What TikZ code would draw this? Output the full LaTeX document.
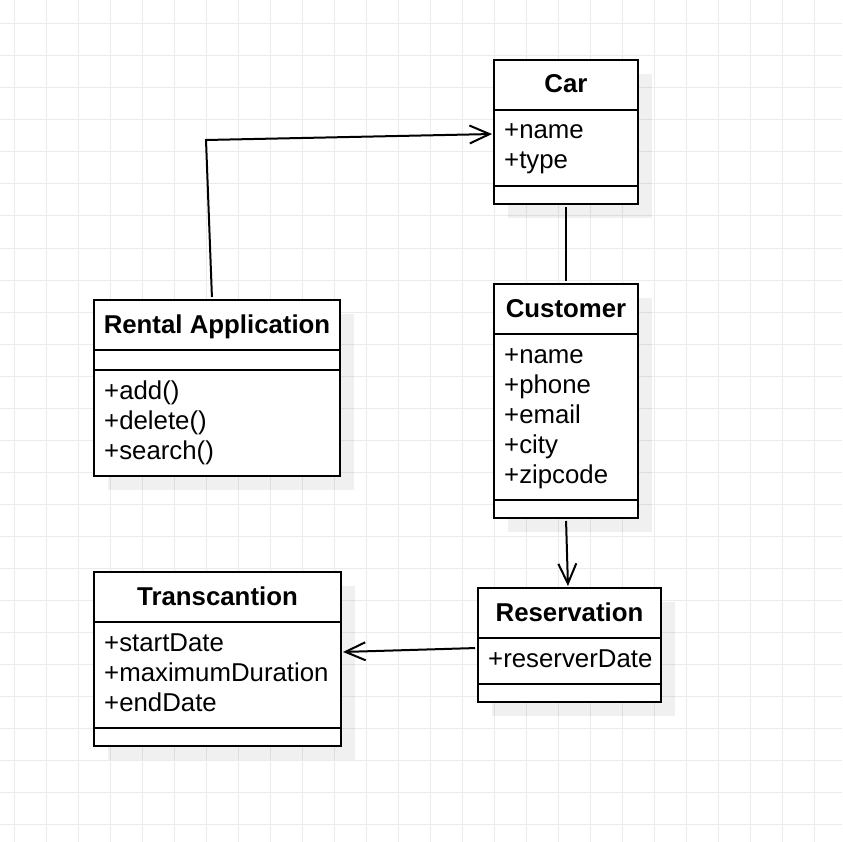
\documentclass[tikz,border=0pt]{standalone}
\usepackage{fontspec}
\setmainfont{Liberation Sans}
\usetikzlibrary{arrows.meta,shadows}

\tikzset{
  umlbox/.style={draw, line width=2pt, fill=white, inner sep=0pt,
    drop shadow={shadow xshift=14pt, shadow yshift=-14pt, fill=black, opacity=0.06}},
  title/.style={anchor=base, inner sep=0pt, font=\fontsize{25.8}{30}\selectfont\bfseries},
  attr/.style={anchor=base west, inner sep=0pt, font=\fontsize{25.8}{30}\selectfont},
  sepline/.style={line width=2pt},
  link/.style={line width=2pt},
  openarrow/.style={link, -{Straight Barb[length=20pt,width=18pt]}},
  gridline/.style={black!8, line width=1pt}
}

\begin{document}
\begin{tikzpicture}[x=1pt,y=-1pt]
  \useasboundingbox (0,0) rectangle (842,842);

  % background grid
  \foreach \gx in {0,...,25}
    \draw[gridline] (14.5+32*\gx,0) -- (14.5+32*\gx,842);
  \foreach \gy in {0,...,25}
    \draw[gridline] (0,24+32*\gy) -- (842,24+32*\gy);

  % classes
  \node[umlbox, minimum width=144pt, minimum height=144pt] (car) at (566,132) {};
  \draw[sepline] (car.west |- 0,110) -- (car.east |- 0,110);
  \draw[sepline] (car.west |- 0,186) -- (car.east |- 0,186);
  \node[title] (car-title) at (566,93) {Car};
  \foreach \t [count=\i] in {+name,+type}
    \node[attr] (car-a\i) at (504,109+30*\i) {\t};

  \node[umlbox, minimum width=144pt, minimum height=234pt] (cust) at (566,401) {};
  \draw[sepline] (cust.west |- 0,334) -- (cust.east |- 0,334);
  \draw[sepline] (cust.west |- 0,500) -- (cust.east |- 0,500);
  \node[title] (cust-title) at (566,317) {Customer};
  \foreach \t [count=\i] in {+name,+phone,+email,+city,+zipcode}
    \node[attr] (cust-a\i) at (504,333+30*\i) {\t};

  \node[umlbox, minimum width=246pt, minimum height=176pt] (rental) at (217,388) {};
  \draw[sepline] (rental.west |- 0,350) -- (rental.east |- 0,350);
  \draw[sepline] (rental.west |- 0,370) -- (rental.east |- 0,370);
  \node[title] (rental-title) at (217,333) {Rental Application};
  \foreach \t [count=\i] in {+add(),+delete(),+search()}
    \node[attr] (rental-m\i) at (104,369+30*\i) {\t};

  \node[umlbox, minimum width=247pt, minimum height=174pt] (trans) at (217.5,659) {};
  \draw[sepline] (trans.west |- 0,622) -- (trans.east |- 0,622);
  \draw[sepline] (trans.west |- 0,728) -- (trans.east |- 0,728);
  \node[title] (trans-title) at (217.5,605) {Transcantion};
  \foreach \t [count=\i] in {+startDate,+maximumDuration,+endDate}
    \node[attr] (trans-a\i) at (104,621+30*\i) {\t};

  \node[umlbox, minimum width=183pt, minimum height=114pt] (res) at (569.5,645) {};
  \draw[sepline] (res.west |- 0,638) -- (res.east |- 0,638);
  \draw[sepline] (res.west |- 0,684) -- (res.east |- 0,684);
  \node[title] (res-title) at (569.5,621) {Reservation};
  \node[attr] (res-a1) at (488,667) {+reserverDate};

  % connectors
  \coordinate (bend) at (206,140);
  \draw[openarrow, shorten <=2pt, shorten >=1pt] ([xshift=-5pt]rental.north) -- (bend) -- ([yshift=-2pt]car.west);
  \draw[link, shorten <=2pt, shorten >=2pt] (car.south) -- (cust.north);
  \draw[openarrow, shorten <=2pt, shorten >=1pt] (cust.south) -- ([xshift=-1.5pt]res.north);
  \draw[openarrow, shorten <=2pt, shorten >=1pt] ([yshift=-3pt]res.west) -- ([yshift=7pt]trans.east);
\end{tikzpicture}
\end{document}
